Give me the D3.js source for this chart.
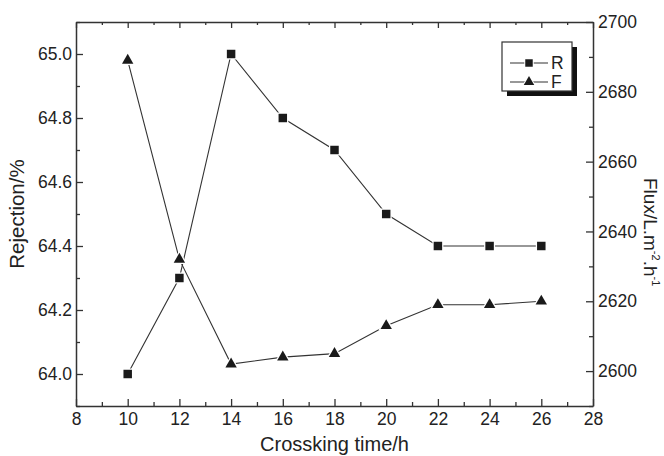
<!DOCTYPE html>
<html><head><meta charset="utf-8">
<script src="https://cdn.jsdelivr.net/npm/d3@7"></script>
<style>body{margin:0;background:#fff}svg{display:block}text{font-family:"Liberation Sans",Arial,Helvetica,sans-serif;fill:#222}</style>
</head><body>
<svg id="c" width="664" height="456"></svg>
<script>
const times = [10, 12, 14, 16, 18, 20, 22, 24, 26];
const rejection = [64.0, 64.3, 65.0, 64.8, 64.7, 64.5, 64.4, 64.4, 64.4];
const flux = [2689, 2632, 2602, 2604, 2605, 2613, 2619, 2619, 2620];
const xTicks = [8, 10, 12, 14, 16, 18, 20, 22, 24, 26, 28];
const leftTicks = [64.0, 64.2, 64.4, 64.6, 64.8, 65.0];
const rightTicks = [2600, 2620, 2640, 2660, 2680, 2700];

const svg = d3.select("#c");
const L = 76, R = 593, T = 22, B = 406;
const ink = "#333";
const x = d3.scaleLinear().domain([8, 28]).range([L, R]);
const yL = d3.scaleLinear().domain([63.9, 65.1]).range([B, T]);
const yR = d3.scaleLinear().domain([2590, 2700]).range([B, T]);

const fs = 17.5;
const xMinor = d3.range(9, 28, 2);
const lMinor = d3.range(63.9, 65.11, 0.2).map(v => +v.toFixed(1));
const rMinor = d3.range(2590, 2700, 20);

function styleAxis(g){ g.selectAll("path,line").attr("stroke", ink).attr("stroke-width", 1.3); g.select(".domain").attr("stroke-width",1.5); }
function styleText(g){ g.selectAll("text").attr("font-size",fs).attr("fill","#222").attr("font-family","Liberation Sans, Arial"); }

svg.append("g").attr("transform",`translate(0,${B})`)
  .call(d3.axisBottom(x).tickValues(xTicks).tickFormat(d3.format("d")).tickSizeInner(-7).tickSizeOuter(0).tickPadding(7))
  .call(styleAxis).call(styleText);
svg.append("g").attr("transform",`translate(0,${B})`)
  .call(d3.axisBottom(x).tickValues(xMinor).tickFormat("").tickSizeInner(-4).tickSizeOuter(0))
  .call(styleAxis).call(g=>g.select(".domain").remove());
svg.append("g").attr("transform",`translate(0,${T})`)
  .call(d3.axisTop(x).tickValues(xTicks).tickFormat("").tickSizeInner(-6).tickSizeOuter(0))
  .call(styleAxis);
svg.append("g").attr("transform",`translate(0,${T})`)
  .call(d3.axisTop(x).tickValues(xMinor).tickFormat("").tickSizeInner(-3).tickSizeOuter(0))
  .call(styleAxis).call(g=>g.select(".domain").remove());
svg.append("g").attr("transform",`translate(${L},0)`)
  .call(d3.axisLeft(yL).tickValues(leftTicks).tickFormat(d3.format(".1f")).tickSizeInner(-7).tickSizeOuter(0).tickPadding(4))
  .call(styleAxis).call(styleText);
svg.append("g").attr("transform",`translate(${L},0)`)
  .call(d3.axisLeft(yL).tickValues(lMinor).tickFormat("").tickSizeInner(-4).tickSizeOuter(0))
  .call(styleAxis).call(g=>g.select(".domain").remove());
svg.append("g").attr("transform",`translate(${R},0)`)
  .call(d3.axisRight(yR).tickValues(rightTicks).tickFormat(d3.format("d")).tickSizeInner(-7).tickSizeOuter(0).tickPadding(5))
  .call(styleAxis).call(styleText);
svg.append("g").attr("transform",`translate(${R},0)`)
  .call(d3.axisRight(yR).tickValues(rMinor).tickFormat("").tickSizeInner(-4).tickSizeOuter(0))
  .call(styleAxis).call(g=>g.select(".domain").remove());

const lineR = d3.line().x((d,i)=>x(times[i])).y(d=>yL(d));
const lineF = d3.line().x((d,i)=>x(times[i])).y(d=>yR(d));
svg.append("path").attr("d", lineR(rejection)).attr("fill","none").attr("stroke", ink).attr("stroke-width",1.1);
svg.append("path").attr("d", lineF(flux)).attr("fill","none").attr("stroke", ink).attr("stroke-width",1.1);

const sq = d3.symbol().type(d3.symbolSquare);
const tri = d3.symbol().type(d3.symbolTriangle);
svg.append("g").selectAll("path").data(rejection).join("path")
  .attr("transform",(d,i)=>`translate(${x(times[i])},${yL(d)})`)
  .attr("d", sq.size(72)()).attr("fill","#1a1a1a").attr("stroke","#fff").attr("stroke-width",2.5).attr("paint-order","stroke");
svg.append("g").selectAll("path").data(flux).join("path")
  .attr("transform",(d,i)=>`translate(${x(times[i])},${yR(d)})`)
  .attr("d", tri.size(56)()).attr("fill","#1a1a1a").attr("stroke","#fff").attr("stroke-width",2.5).attr("paint-order","stroke");

svg.append("text").attr("x", (L+R)/2).attr("y", 451).attr("text-anchor","middle").attr("font-size",20).text("Crossking time/h");
svg.append("text").attr("transform",`translate(24,${(T+B)/2}) rotate(-90)`).attr("text-anchor","middle").attr("font-size",20.5).text("Rejection/%");
const ft = svg.append("text").attr("transform",`translate(644,178) rotate(90)`).attr("font-size",19);
ft.append("tspan").text("Flux/L.m");
ft.append("tspan").attr("dy",-8).attr("font-size",11).text("-2");
ft.append("tspan").attr("dy",8).text(".h");
ft.append("tspan").attr("dy",-8).attr("font-size",11).text("-1");

const lg = svg.append("g");
const lx = 502, ly = 42, lw = 70, lh = 49;
lg.append("rect").attr("x",lx+5).attr("y",ly+5).attr("width",lw).attr("height",lh).attr("fill","#111");
lg.append("rect").attr("x",lx).attr("y",ly).attr("width",lw).attr("height",lh).attr("fill","#fff").attr("stroke",ink).attr("stroke-width",1.2);
const items = [{label:"R", sym:sq.size(56)(), y:ly+21},{label:"F", sym:tri.size(48)(), y:ly+40}];
items.forEach(it=>{
  lg.append("line").attr("x1",lx+8).attr("x2",lx+46).attr("y1",it.y).attr("y2",it.y).attr("stroke",ink).attr("stroke-width",1.1);
  lg.append("path").attr("d",it.sym).attr("transform",`translate(${lx+27},${it.y})`).attr("fill","#1a1a1a").attr("stroke","#fff").attr("stroke-width",2).attr("paint-order","stroke");
  lg.append("text").attr("x",lx+49).attr("y",it.y+6).attr("font-size",17.5).text(it.label);
});
</script>
</body></html>
